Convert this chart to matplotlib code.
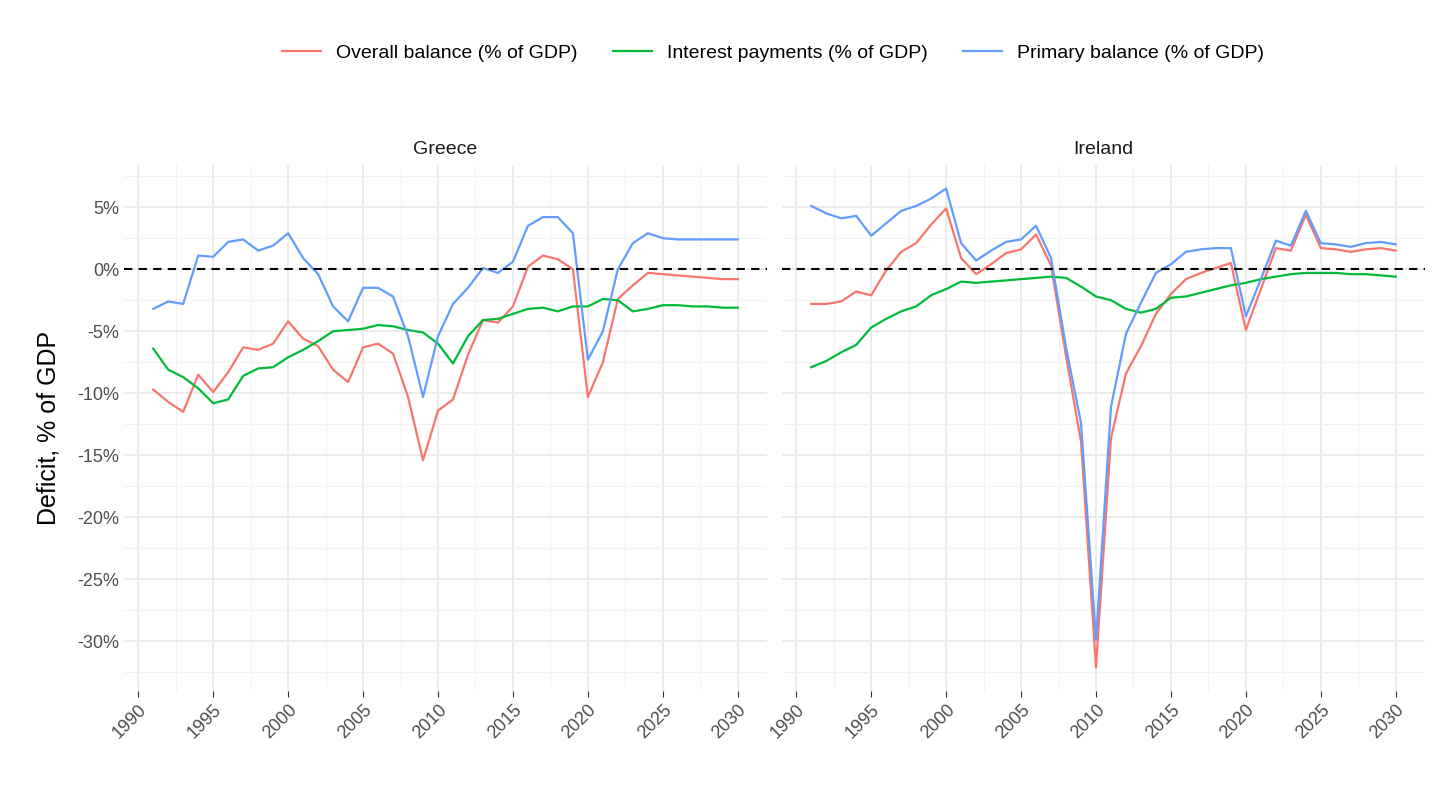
import matplotlib
matplotlib.use("Agg")
import matplotlib.pyplot as plt
from matplotlib.ticker import MultipleLocator, FuncFormatter

plt.rcParams['font.family'] = ['Liberation Sans', 'DejaVu Sans']

years = list(range(1991, 2031))
gr_overall = [-9.7,-10.7,-11.5,-8.5,-9.9,-8.3,-6.3,-6.5,-6.0,-4.2,-5.6,-6.2,-8.1,-9.1,-6.3,-6.0,-6.8,-10.3,-15.4,-11.4,
              -10.5,-6.9,-4.1,-4.3,-3.0,0.2,1.1,0.8,0.0,-10.3,-7.5,-2.4,-1.3,-0.3,-0.4,-0.5,-0.6,-0.7,-0.8,-0.8]
gr_interest = [-6.4,-8.1,-8.7,-9.6,-10.8,-10.5,-8.6,-8.0,-7.9,-7.1,-6.5,-5.8,-5.0,-4.9,-4.8,-4.5,-4.6,-4.9,-5.1,-6.0,
               -7.6,-5.4,-4.1,-4.0,-3.6,-3.2,-3.1,-3.4,-3.0,-3.0,-2.4,-2.5,-3.4,-3.2,-2.9,-2.9,-3.0,-3.0,-3.1,-3.1]
gr_primary = [-3.2,-2.6,-2.8,1.1,1.0,2.2,2.4,1.5,1.9,2.9,0.9,-0.4,-3.0,-4.2,-1.5,-1.5,-2.2,-5.4,-10.3,-5.4,
              -2.8,-1.5,0.1,-0.3,0.6,3.5,4.2,4.2,2.9,-7.3,-5.0,0.0,2.1,2.9,2.5,2.4,2.4,2.4,2.4,2.4]
ie_overall = [-2.8,-2.8,-2.6,-1.8,-2.1,-0.1,1.4,2.1,3.6,4.9,0.9,-0.4,0.4,1.3,1.6,2.8,0.3,-7.0,-13.9,-32.1,
              -13.6,-8.4,-6.2,-3.6,-2.0,-0.8,-0.3,0.1,0.5,-4.9,-1.6,1.7,1.5,4.4,1.7,1.6,1.4,1.6,1.7,1.5]
ie_interest = [-7.9,-7.4,-6.7,-6.1,-4.7,-4.0,-3.4,-3.0,-2.1,-1.6,-1.0,-1.1,-1.0,-0.9,-0.8,-0.7,-0.6,-0.7,-1.4,-2.2,
               -2.5,-3.2,-3.5,-3.2,-2.3,-2.2,-1.9,-1.6,-1.3,-1.1,-0.8,-0.6,-0.4,-0.3,-0.3,-0.3,-0.4,-0.4,-0.5,-0.6]
ie_primary = [5.1,4.5,4.1,4.3,2.7,3.7,4.7,5.1,5.7,6.5,2.1,0.7,1.5,2.2,2.4,3.5,0.9,-6.3,-12.4,-29.9,
              -11.1,-5.2,-2.7,-0.3,0.4,1.4,1.6,1.7,1.7,-3.8,-0.8,2.3,1.9,4.7,2.1,2.0,1.8,2.1,2.2,2.0]

series_names = ["Overall balance (% of GDP)", "Interest payments (% of GDP)", "Primary balance (% of GDP)"]
colors = ["#F8766D", "#00BA38", "#619CFF"]
panels = {"Greece": [gr_overall, gr_interest, gr_primary], "Ireland": [ie_overall, ie_interest, ie_primary]}

fig = plt.figure(figsize=(14.4, 8.1), dpi=100)
axes = [fig.add_axes([124/1440, 1-691/810, 643/1440, 526/810]),
        fig.add_axes([782/1440, 1-691/810, 643/1440, 526/810])]
for ax, (name, data) in zip(axes, panels.items()):
    for vals, c, lab in zip(data, colors, series_names):
        ax.plot(years, vals, color=c, lw=1.6, label=lab)
    ax.axhline(0, color="black", ls=(0, (4, 3)), lw=1.5)
    ax.set_xlim(1989.05, 2031.95)
    ax.set_ylim(-34.0, 8.4)
    ax.xaxis.set_major_locator(MultipleLocator(5))
    ax.xaxis.set_minor_locator(MultipleLocator(2.5))
    ax.yaxis.set_major_locator(MultipleLocator(5))
    ax.yaxis.set_minor_locator(MultipleLocator(2.5))
    ax.grid(which="major", color="#EBEBEB", lw=1.3)
    ax.grid(which="minor", color="#F2F2F2", lw=0.8)
    ax.set_axisbelow(True)
    for s in ax.spines.values():
        s.set_visible(False)
    ax.tick_params(which="both", length=0, labelsize=13, colors="#4D4D4D")
    ax.tick_params(axis="x", which="major", length=4, color="#333333")
    for t in ax.get_xticklabels():
        t.set_rotation(45); t.set_ha("right"); t.set_rotation_mode("anchor")
    ax.set_title(name, fontsize=14, color="#1A1A1A", pad=8)
    ax.yaxis.set_major_formatter(FuncFormatter(lambda v, p: f"{v:.0f}%"))
axes[1].tick_params(axis="y", labelleft=False)
axes[0].set_ylabel("Deficit, % of GDP", fontsize=18, labelpad=12)
h, l = axes[0].get_legend_handles_labels()
fig.legend(h, l, loc="center", bbox_to_anchor=(773/1440, 1-53/810), ncol=3, frameon=False, fontsize=14,
           handlelength=2, columnspacing=1.8)
fig.savefig("out.png", dpi=100, facecolor="white")
